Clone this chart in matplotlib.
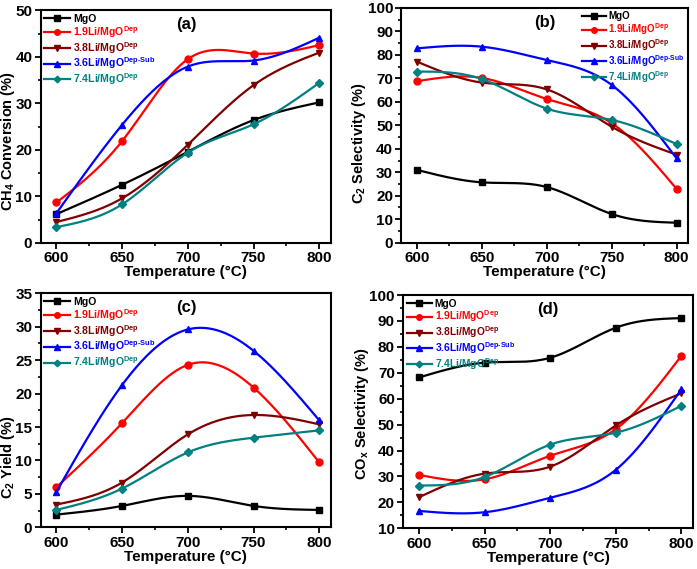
import matplotlib
matplotlib.use("Agg")
import matplotlib.pyplot as plt
import numpy as np
from matplotlib.ticker import MultipleLocator

plt.rcParams['font.family'] = 'Liberation Sans'
plt.rcParams['font.weight'] = 'bold'
plt.rcParams['axes.labelweight'] = 'bold'
plt.rcParams['mathtext.fontset'] = 'custom'
plt.rcParams['mathtext.rm'] = 'Liberation Sans:bold'
plt.rcParams['mathtext.bf'] = 'Liberation Sans:bold'
plt.rcParams['mathtext.it'] = 'Liberation Sans:bold'

temps = [600, 650, 700, 750, 800]
labels = ['MgO', r'1.9Li/MgO$^{\rm Dep}$', r'3.8Li/MgO$^{\rm Dep}$',
          r'3.6Li/MgO$^{\rm Dep\text{-}Sub}$', r'7.4Li/MgO$^{\rm Dep}$']
colors = ['#000000', '#FF0000', '#800000', '#0000FF', '#008080']
markers = ['s', 'o', 'v', '^', 'D']
msizes = [5, 5, 5, 5, 4.2]

# (a) CH4 conversion
ch4_mgo = [6.2, 12.5, 19.6, 26.4, 30.2]
ch4_19 = [8.7, 21.9, 39.5, 40.7, 42.5]
ch4_38 = [4.5, 9.6, 21.1, 33.9, 40.9]
ch4_36 = [6.4, 25.4, 37.9, 39.2, 44.1]
ch4_74 = [3.4, 8.3, 19.4, 25.5, 34.4]

# (b) C2 selectivity
c2s_mgo = [31.0, 25.7, 23.7, 12.2, 8.5]
c2s_19 = [68.8, 70.2, 61.2, 50.9, 22.9]
c2s_38 = [77.1, 68.2, 65.3, 49.4, 37.5]
c2s_36 = [82.8, 83.5, 77.8, 67.2, 35.9]
c2s_74 = [72.9, 69.7, 57.1, 52.3, 42.0]

# (c) C2 yield
c2y_mgo = [1.9, 3.2, 4.7, 3.2, 2.6]
c2y_19 = [6.0, 15.6, 24.3, 20.9, 9.7]
c2y_38 = [3.4, 6.7, 13.9, 16.8, 15.4]
c2y_36 = [5.3, 21.3, 29.6, 26.4, 16.0]
c2y_74 = [2.6, 5.8, 11.2, 13.4, 14.5]

# (d) COx selectivity
cox_mgo = [68.2, 73.9, 75.8, 87.4, 91.1]
cox_19 = [30.6, 28.9, 38.0, 48.3, 76.6]
cox_38 = [22.0, 31.1, 33.8, 49.7, 62.1]
cox_36 = [16.7, 16.2, 21.8, 32.6, 63.7]
cox_74 = [26.5, 29.8, 42.3, 46.9, 57.3]


def spline(x, y, n=200):
    """natural cubic spline through the points"""
    x = np.asarray(x, float)
    y = np.asarray(y, float)
    m = len(x)
    h = np.diff(x)
    A = np.zeros((m, m))
    b = np.zeros(m)
    A[0, 0] = 1
    A[-1, -1] = 1
    for i in range(1, m - 1):
        A[i, i - 1] = h[i - 1]
        A[i, i] = 2 * (h[i - 1] + h[i])
        A[i, i + 1] = h[i]
        b[i] = 6 * ((y[i + 1] - y[i]) / h[i] - (y[i] - y[i - 1]) / h[i - 1])
    M = np.linalg.solve(A, b)
    xs = np.linspace(x[0], x[-1], n)
    ys = np.zeros(n)
    for k, xv in enumerate(xs):
        i = min(np.searchsorted(x, xv, side='right') - 1, m - 2)
        t1 = x[i + 1] - xv
        t2 = xv - x[i]
        ys[k] = (M[i] * t1 ** 3 / (6 * h[i]) + M[i + 1] * t2 ** 3 / (6 * h[i])
                 + (y[i] / h[i] - M[i] * h[i] / 6) * t1
                 + (y[i + 1] / h[i] - M[i + 1] * h[i] / 6) * t2)
    return xs, ys


fig = plt.figure(figsize=(6.97, 5.69), dpi=100)
axa = fig.add_axes([0.0584, 0.573, 0.4166, 0.409])
axb = fig.add_axes([0.576, 0.5735, 0.4115, 0.4125])
axc = fig.add_axes([0.0584, 0.0733, 0.4166, 0.4112])
axd = fig.add_axes([0.5786, 0.0715, 0.4161, 0.41])

# axes, data, ylabel, ylim, major, minor, tag, legend loc, ylabel pos, legend size
panels = [
    (axa, [ch4_mgo, ch4_19, ch4_38, ch4_36, ch4_74], r'CH$_4$ Conversion (%)',
     (0, 50), 10, 5, '(a)', 'upper left', (-0.083, 0.44), 7.6),
    (axb, [c2s_mgo, c2s_19, c2s_38, c2s_36, c2s_74], r'C$_2$ Selectivity (%)',
     (0, 100), 10, 5, '(b)', 'upper right', (-0.117, 0.425), 7.0),
    (axc, [c2y_mgo, c2y_19, c2y_38, c2y_36, c2y_74], r'C$_2$ Yield (%)',
     (0, 35), 5, 2.5, '(c)', 'upper left', (-0.083, 0.30), 7.6),
    (axd, [cox_mgo, cox_19, cox_38, cox_36, cox_74], r'CO$_x$ Selectivity (%)',
     (10, 100), 10, 5, '(d)', 'upper left', (-0.113, 0.49), 7.4),
]

for ax, series, ylab, ylim, major, minor, tag, loc, labpos, lsize in panels:
    for vals, lab, c, mk, ms in zip(series, labels, colors, markers, msizes):
        xs, ys = spline(temps, vals)
        ax.plot(xs, ys, color=c, lw=1.6)
        ax.plot(temps, vals, ls='none', marker=mk, color=c, ms=ms)
        ax.plot([], [], color=c, lw=1.6, marker=mk, ms=ms * 0.8, label=lab)
    ax.set_xlim(588, 809)
    ax.set_ylim(*ylim)
    ax.xaxis.set_major_locator(MultipleLocator(50))
    ax.xaxis.set_minor_locator(MultipleLocator(25))
    ax.yaxis.set_major_locator(MultipleLocator(major))
    ax.yaxis.set_minor_locator(MultipleLocator(minor))
    ax.tick_params(which='major', direction='out', length=4.5, width=1.3,
                   labelsize=11, pad=1.5)
    ax.tick_params(which='minor', direction='out', length=2.5, width=1.2)
    for s in ax.spines.values():
        s.set_linewidth(1.5)
    ax.set_xlabel('Temperature (°C)', fontsize=11, labelpad=0)
    ax.set_ylabel(ylab, fontsize=10.5)
    ax.yaxis.set_label_coords(*labpos)
    ax.text(0.5, 0.94, tag, transform=ax.transAxes, ha='center', va='center',
            fontsize=12, fontweight='bold')
    leg = ax.legend(loc=loc, frameon=False, fontsize=lsize, handlelength=2.4,
                    handletextpad=0.3, labelspacing=0.0, borderaxespad=0.15,
                    borderpad=0.2)
    for txt, c in zip(leg.get_texts(), colors):
        txt.set_color(c)

fig.savefig('out.png', dpi=100)
